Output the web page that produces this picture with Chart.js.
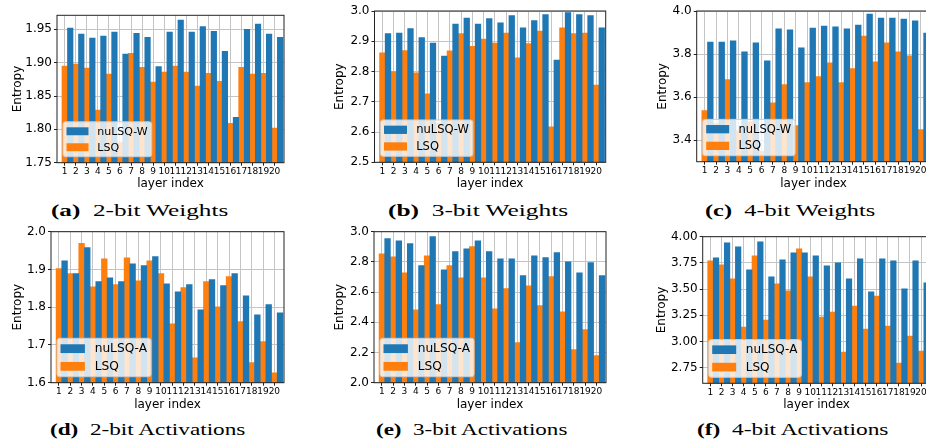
<!DOCTYPE html>
<html>
<head>
<meta charset="utf-8">
<script src="https://cdn.jsdelivr.net/npm/chart.js@4.4.1/dist/chart.umd.min.js"></script>
<style>
  html, body { margin: 0; padding: 0; background: #fff; }
  body { width: 926px; height: 445px; overflow: hidden; position: relative; }
  canvas.panel { position: absolute; }
  .cap {
    position: absolute;
    font-family: "Liberation Serif", serif;
    font-size: 17.5px;
    white-space: nowrap;
    color: #000;
    transform-origin: center center;
  }
</style>
</head>
<body>
<script>
// --- Data ---
const layers = [1, 2, 3, 4, 5, 6, 7, 8, 9, 10, 11, 12, 13, 14, 15, 16, 17, 18, 19, 20];

// (a) 2-bit weights
const nuW2  = [1.952, 1.943, 1.937, 1.940, 1.946, 1.913, 1.944, 1.938, 1.894, 1.946, 1.964, 1.946, 1.954, 1.947, 1.917, 1.818, 1.950, 1.958, 1.943, 1.938];
const lsqW2 = [1.895, 1.898, 1.892, 1.829, 1.883, 1.781, 1.914, 1.893, 1.871, 1.886, 1.895, 1.886, 1.865, 1.884, 1.872, 1.809, 1.893, 1.883, 1.884, 1.802];
// (b) 3-bit weights
const nuW3  = [2.925, 2.927, 2.942, 2.912, 2.894, 2.851, 2.957, 2.977, 2.957, 2.975, 2.961, 2.985, 2.944, 2.968, 2.988, 2.838, 2.995, 2.988, 2.985, 2.944];
const lsqW3 = [2.862, 2.800, 2.869, 2.796, 2.726, 2.630, 2.868, 2.925, 2.883, 2.907, 2.894, 2.927, 2.845, 2.892, 2.934, 2.617, 2.944, 2.925, 2.927, 2.755];
// (c) 4-bit weights
const nuW4  = [3.856, 3.856, 3.861, 3.810, 3.852, 3.769, 3.917, 3.912, 3.829, 3.921, 3.930, 3.926, 3.917, 3.935, 3.986, 3.967, 3.967, 3.963, 3.954, 3.898];
const lsqW4 = [3.537, 3.477, 3.681, 3.445, 3.486, 3.348, 3.574, 3.658, 3.468, 3.667, 3.695, 3.759, 3.667, 3.732, 3.884, 3.764, 3.852, 3.810, 3.792, 3.449];
// (d) 2-bit activations
const nuA2  = [1.923, 1.889, 1.958, 1.868, 1.878, 1.868, 1.915, 1.910, 1.934, 1.862, 1.841, 1.860, 1.793, 1.873, 1.857, 1.889, 1.830, 1.780, 1.807, 1.785];
const lsqA2 = [1.902, 1.889, 1.969, 1.854, 1.928, 1.860, 1.931, 1.870, 1.923, 1.889, 1.756, 1.852, 1.666, 1.868, 1.801, 1.881, 1.762, 1.653, 1.709, 1.626];
// (e) 3-bit activations
const nuA3  = [2.954, 2.940, 2.921, 2.775, 2.967, 2.748, 2.868, 2.887, 2.940, 2.868, 2.821, 2.821, 2.709, 2.841, 2.828, 2.861, 2.801, 2.728, 2.795, 2.709];
const lsqA3 = [2.854, 2.834, 2.728, 2.483, 2.841, 2.517, 2.775, 2.695, 2.901, 2.695, 2.490, 2.623, 2.265, 2.642, 2.510, 2.702, 2.470, 2.219, 2.351, 2.179];
// (f) 4-bit activations
const nuA4  = [3.799, 3.942, 3.904, 3.683, 3.952, 3.616, 3.779, 3.847, 3.847, 3.818, 3.722, 3.751, 3.597, 3.789, 3.473, 3.789, 3.770, 3.501, 3.770, 3.559];
const lsqA4 = [3.770, 3.731, 3.597, 3.137, 3.818, 3.204, 3.549, 3.482, 3.885, 3.616, 3.233, 3.281, 2.897, 3.338, 3.118, 3.434, 3.146, 2.792, 3.050, 2.907];

// y tick values
const ticksW2 = [1.75, 1.80, 1.85, 1.90, 1.95];
const ticksW3 = [2.5, 2.6, 2.7, 2.8, 2.9, 3.0];
const ticksW4 = [3.4, 3.6, 3.8, 4.0];
const ticksA2 = [1.6, 1.7, 1.8, 1.9, 2.0];
const ticksA3 = [2.0, 2.2, 2.4, 2.6, 2.8, 3.0];
const ticksA4 = [2.75, 3.00, 3.25, 3.50, 3.75, 4.00];

const captionTags  = ['(a)', '(b)', '(c)', '(d)', '(e)', '(f)'];
const captionTexts = ['2-bit Weights', '3-bit Weights', '4-bit Weights', '2-bit Activations', '3-bit Activations', '4-bit Activations'];

const BLUE = '#1f77b4';
const ORANGE = '#ff7f0e';

Chart.defaults.font.family = '"DejaVu Sans", sans-serif';
Chart.defaults.color = '#000';

// --- Panels (layout in page pixels) ---
const panels = [
    { nu: nuW2, lsq: lsqW2, nuName: 'nuLSQ-W', yMin: 1.75, yMax: 1.971, yTicks: ticksW2, dec: 2,
      L: 57, R: 284, T: 15.3, B: 162.7, ttlX: 17.7, ttlY: 184, legFont: 11, cap: [139.5, 210, 177] },
    { nu: nuW3, lsq: lsqW3, nuName: 'nuLSQ-W', yMin: 2.5, yMax: 3.0, yTicks: ticksW3, dec: 1,
      L: 374.5, R: 605.7, T: 11, B: 162.3, ttlX: 340, ttlY: 184, legFont: 11.5, cap: [478, 210, 180] },
    { nu: nuW4, lsq: lsqW4, nuName: 'nuLSQ-W', yMin: 3.3, yMax: 4.0, yTicks: ticksW4, dec: 1,
      L: 696.7, R: 930.5, T: 11, B: 161.7, ttlX: 663, ttlY: 184, legFont: 11.5, cap: [790, 210, 170] },
    { nu: nuA2, lsq: lsqA2, nuName: 'nuLSQ-A', yMin: 1.6, yMax: 2.0, yTicks: ticksA2, dec: 1,
      L: 51, R: 284, T: 231.7, B: 382.7, ttlX: 18, ttlY: 404.5, legFont: 12.2, cap: [147.5, 429, 195] },
    { nu: nuA3, lsq: lsqA3, nuName: 'nuLSQ-A', yMin: 2.0, yMax: 3.0, yTicks: ticksA3, dec: 1,
      L: 374, R: 606, T: 231.7, B: 382.7, ttlX: 340, ttlY: 404.5, legFont: 12.2, cap: [471.5, 429, 191] },
    { nu: nuA4, lsq: lsqA4, nuName: 'nuLSQ-A', yMin: 2.6, yMax: 4.0, yTicks: ticksA4, dec: 2,
      L: 702.7, R: 930.5, T: 236.7, B: 383.3, ttlX: 662.5, ttlY: 405, legFont: 12, cap: [792.5, 429, 191] }
];

// legend box in the lower left corner + black frame round the axes
const axesDecor = {
    id: 'axesDecor',
    afterDatasetsDraw(chart, args, opts) {
        const { ctx, chartArea: a } = chart;
        const f = opts.fontSize;
        const rowH = f * 1.45, pad = 1.5;
        ctx.save();
        ctx.font = f + 'px "DejaVu Sans"';
        const textW = Math.max(...chart.data.datasets.map(d => ctx.measureText(d.label).width));
        const w = 3.5 + 2 * f + 0.8 * f + textW + 4;
        const h = 2 * rowH + 2 * pad;
        const x = a.left + 6, y = a.bottom - 6 - h;
        ctx.beginPath();
        ctx.roundRect(x, y, w, h, 2.5);
        ctx.fillStyle = 'rgba(255,255,255,0.8)';
        ctx.fill();
        ctx.strokeStyle = '#cccccc';
        ctx.lineWidth = 1;
        ctx.stroke();
        chart.data.datasets.forEach((d, i) => {
            const cy = y + pad + rowH * (i + 0.5);
            ctx.fillStyle = d.backgroundColor;
            ctx.fillRect(x + 3.5, cy - 0.36 * f, 2 * f, 0.72 * f);
            ctx.fillStyle = '#000';
            ctx.textBaseline = 'middle';
            ctx.fillText(d.label, x + 3.5 + 2.8 * f, cy + 0.5);
        });
        ctx.restore();
    },
    afterDraw(chart) {
        const { ctx, chartArea: a } = chart;
        ctx.save();
        ctx.strokeStyle = '#222';
        ctx.lineWidth = 1;
        ctx.strokeRect(a.left, a.top, a.right - a.left, a.bottom - a.top);
        ctx.restore();
    }
};

const makePanel = (p, idx) => {
    const cl = Math.round(p.ttlX - 11.2);
    const ct = Math.round(p.T - 10);
    const cr = Math.round(p.R + 10);
    const cb = Math.round(p.ttlY + 11.2);
    const yW = p.L - cl;
    const xH = cb - p.B;

    const canvas = document.createElement('canvas');
    canvas.className = 'panel';
    canvas.width = cr - cl;
    canvas.height = cb - ct;
    canvas.style.left = cl + 'px';
    canvas.style.top = ct + 'px';
    canvas.style.width = (cr - cl) + 'px';
    canvas.style.height = (cb - ct) + 'px';
    document.body.appendChild(canvas);

    new Chart(canvas.getContext('2d'), {
        type: 'bar',
        data: {
            datasets: [
                { label: p.nuName, data: layers.map((l, i) => ({ x: l + 0.5, y: p.nu[i] })), backgroundColor: BLUE },
                { label: 'LSQ', data: layers.map((l, i) => ({ x: l, y: p.lsq[i] })), backgroundColor: ORANGE }
            ]
        },
        options: {
            responsive: false,
            animation: false,
            layout: { padding: { top: p.T - ct, right: cr - p.R, left: 0, bottom: 0 }, autoPadding: false },
            datasets: { bar: { grouped: false, barPercentage: 1, categoryPercentage: 1, borderWidth: 0 } },
            plugins: {
                legend: { display: false },
                tooltip: { enabled: false },
                axesDecor: { fontSize: p.legFont }
            },
            scales: {
                x: {
                    type: 'linear',
                    min: 0.3,
                    max: 20.85,
                    offset: false,
                    afterBuildTicks: s => { s.ticks = layers.map(v => ({ value: v })); },
                    afterFit: s => { s.height = xH; },
                    ticks: { autoSkip: false, maxRotation: 0, minRotation: 0, padding: 1, font: { size: 9 }, callback: v => String(v) },
                    grid: { offset: false, color: '#c4c4c4', tickColor: '#222', tickLength: 3, lineWidth: 1 },
                    border: { display: false },
                    title: { display: true, text: 'layer index', font: { size: 12 }, padding: { top: 0, bottom: 4 } }
                },
                y: {
                    min: p.yMin,
                    max: p.yMax,
                    beginAtZero: false,
                    afterBuildTicks: s => { s.ticks = p.yTicks.map(v => ({ value: v })); },
                    afterFit: s => { s.width = yW; },
                    ticks: { padding: 2, font: { size: 12 }, callback: v => v.toFixed(p.dec) },
                    grid: { color: '#c4c4c4', tickColor: '#222', tickLength: 3, lineWidth: 1 },
                    border: { display: false },
                    title: { display: true, text: 'Entropy', font: { size: 12 }, padding: { top: 4, bottom: 0 } }
                }
            }
        },
        plugins: [axesDecor]
    });

    // caption under the panel
    const cap = document.createElement('div');
    cap.className = 'cap';
    cap.innerHTML = '<b>' + captionTags[idx] + '</b>&nbsp; ' + captionTexts[idx];
    document.body.appendChild(cap);
    const natW = cap.offsetWidth, natH = cap.offsetHeight;
    const k = p.cap[2] / natW;
    cap.style.left = (p.cap[0] - natW / 2) + 'px';
    cap.style.top = (p.cap[1] - natH / 2) + 'px';
    cap.style.transform = 'scaleX(' + k.toFixed(3) + ')';
};

panels.forEach(makePanel);
</script>
</body>
</html>
